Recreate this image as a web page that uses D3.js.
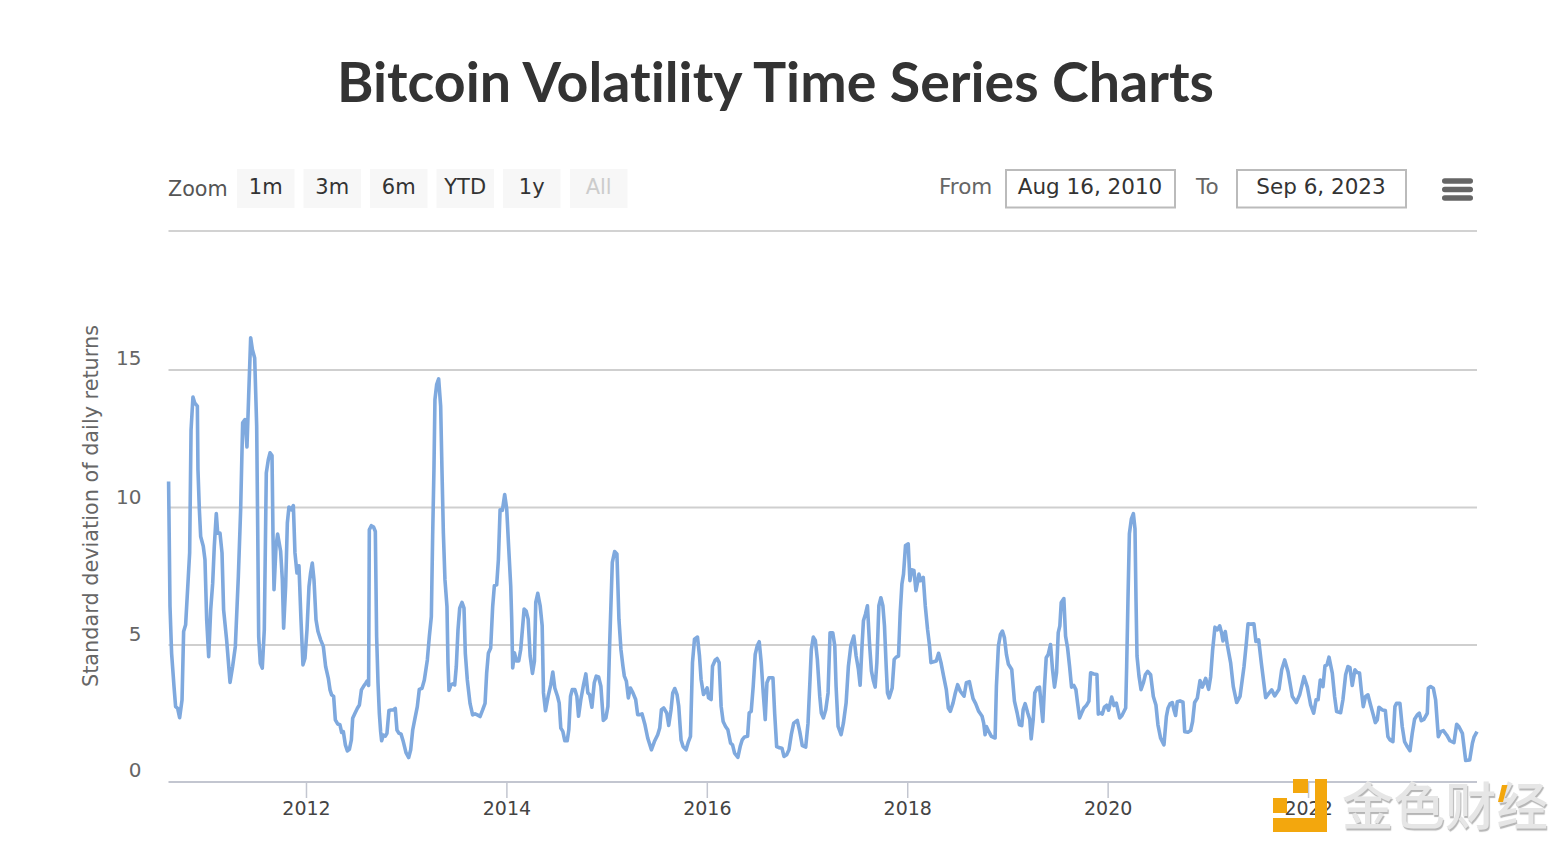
<!DOCTYPE html>
<html lang="en"><head><meta charset="utf-8"><title>Bitcoin Volatility Time Series Charts</title>
<script src="https://cdn.jsdelivr.net/npm/d3@7/dist/d3.min.js"></script>
<style>html,body{margin:0;padding:0;background:#fff}svg{display:block}</style></head>
<body><svg id="c" width="1560" height="846"></svg>
<script>
const chartTitle = "Bitcoin Volatility Time Series Charts";
const yAxisTitle = "Standard deviation of daily returns";
const zoomLabels = ["1m","3m","6m","YTD","1y","All"];
const fromDate = "Aug 16, 2010", toDate = "Sep 6, 2023";
const xTicks = [2012,2014,2016,2018,2020,2022];
const yTicks = [0,5,10,15];
// years since 2010 of each sampled reading
const yearsSince2010 = [
.629,.643,.659,.683,.699,.719,.739,.763,.779,.799,
.826,.839,.853,.872,.889,.916,.922,.936,.949,.975,
.992,1.009,1.029,1.049,1.069,1.085,1.105,1.119,1.142,1.162,
1.178,1.208,1.242,1.268,1.295,1.325,1.348,1.368,1.391,1.411,
1.428,1.448,1.465,1.488,1.508,1.518,1.528,1.544,1.564,1.584,
1.604,1.624,1.641,1.661,1.671,1.681,1.701,1.717,1.747,1.764,
1.777,1.797,1.814,1.830,1.854,1.874,1.890,1.910,1.930,1.950,
1.970,1.990,2.010,2.030,2.046,2.063,2.08,2.10,2.12,2.146,
2.173,2.196,2.223,2.24,2.256,2.276,2.293,2.316,2.339,2.356,
2.373,2.393,2.413,2.433,2.453,2.466,2.489,2.513,2.533,2.553,
2.573,2.596,2.612,2.625,2.632,2.652,2.675,2.692,2.705,2.719,
2.732,2.745,2.755,2.772,2.792,2.808,2.828,2.848,2.871,2.891,
2.908,2.928,2.948,2.971,2.998,3.025,3.045,3.065,3.088,3.111,
3.131,3.158,3.181,3.211,3.231,3.251,3.264,3.277,3.287,3.304,
3.324,3.344,3.357,3.371,3.387,3.407,3.417,3.427,3.447,3.467,
3.484,3.50,3.517,3.534,3.557,3.577,3.59,3.61,3.637,3.663,
3.687,3.71,3.737,3.763,3.787,3.803,3.82,3.843,3.863,3.88,
3.903,3.92,3.937,
3.96,3.983,4.003,4.02,4.043,4.053,4.063,4.08,4.10,4.123,
4.143,4.177,4.197,4.217,4.237,4.26,4.28,4.293,4.313,4.337,
4.357,4.37,4.39,4.417,4.443,4.463,4.483,4.51,4.527,4.543,
4.563,4.583,4.607,4.623,4.64,4.657,4.683,4.703,4.72,4.743,
4.77,4.793,4.813,4.83,4.853,4.877,4.897,4.92,4.943,4.967,
4.993,5.013,5.03,5.057,5.08,5.103,5.123,5.143,5.163,5.177,
5.197,5.217,5.237,5.263,5.29,5.31,5.333,5.353,5.383,5.41,
5.447,5.477,5.51,5.53,5.547,5.57,5.60,5.62,5.643,5.66,
5.68,5.703,5.72,5.743,5.763,5.793,5.817,5.837,5.857,5.877,
5.907,5.927,5.943,5.967,5.987,6.003,6.017,6.043,6.057,6.083,
6.103,6.123,6.143,6.163,6.187,6.21,6.237,6.257,6.277,6.31,
6.333,6.353,6.377,6.407,6.423,6.443,6.463,6.483,6.503,6.523,
6.543,6.563,6.583,6.60,6.62,6.66,6.677,6.697,6.72,6.75,
6.77,6.797,6.82,6.843,6.867,6.903,6.927,6.953,6.987,7.01,
7.03,7.043,7.063,7.083,7.103,7.127,7.143,7.163,
7.187,7.21,7.23,7.257,7.277,7.29,7.31,7.34,7.363,7.39,
7.413,7.437,7.467,7.49,7.513,7.53,7.547,7.563,7.583,7.603,
7.623,7.643,7.663,7.68,7.697,7.717,7.737,7.757,7.773,7.79,
7.803,7.82,7.85,7.87,7.89,7.913,7.93,7.947,7.963,7.983,
8.01,8.027,8.043,8.067,8.087,8.103,8.117,8.133,8.16,8.18,
8.203,8.223,8.237,8.263,8.29,8.313,8.337,8.363,8.39,8.41,
8.43,8.457,8.48,8.503,8.53,8.567,8.59,8.62,8.637,8.657,
8.683,8.713,8.747,8.763,8.777,8.79,8.813,8.84,8.877,8.89,
8.91,8.93,8.95,8.97,8.99,9.01,9.043,9.07,9.097,9.12,
9.143,9.157,9.177,9.203,9.223,9.237,9.257,9.273,9.297,9.32,
9.353,9.37,9.387,9.407,9.43,9.45,9.47,9.49,9.507,9.523,
9.537,9.563,9.58,9.60,9.62,9.64,9.663,9.683,9.70,9.72,
9.74,9.763,9.787,9.813,9.83,9.863,9.893,9.907,9.923,9.947,
9.967,9.99,10.01,10.04,10.063,10.087,10.12,10.143,10.18,10.19,
10.203,10.217,10.237,10.257,10.273,10.283,10.293,10.313,10.333,10.357,
10.377,10.40,10.429,10.456,10.482,10.502,10.529,10.562,10.586,10.602,
10.622,10.645,10.662,10.678,10.695,10.722,10.752,10.769,10.802,10.828,
10.848,10.868,10.895,10.922,10.945,10.978,11.008,11.028,11.048,11.071,
11.094,11.118,11.138,11.151,11.174,11.194,11.228,11.254,11.288,11.321,
11.361,11.384,11.401,11.427,11.46,11.48,11.507,11.534,11.577,11.61,
11.637,11.667,11.71,11.737,11.767,11.8,11.843,11.883,11.916,11.96,
11.993,12.026,12.056,12.08,12.1,12.122,12.149,12.169,12.189,12.209,
12.242,12.265,12.285,12.325,12.348,12.375,12.398,12.418,12.441,12.468,
12.491,12.514,12.531,12.551,12.574,12.598,12.624,12.651,12.671,12.691,
12.707,12.741,12.771,12.797,12.817,12.847,12.867,12.883,12.917,12.94,
12.963,12.99,13.017,13.04,13.063,13.09,13.11,13.13,13.156,13.19,
13.2,13.223,13.25,13.273,13.3,13.323,13.35,13.383,13.416,13.456,
13.483,13.506,13.54,13.573,13.613,13.64,13.656,13.686];
// standard deviation of daily returns at each reading
const volatility = [
10.93,6.38,4.68,3.47,2.74,2.68,2.34,2.98,5.47,5.72,
7.48,8.33,12.8,14.0,13.79,13.67,11.36,9.9,8.93,8.57,
8.08,5.9,4.56,6.26,7.23,8.57,9.76,9.05,9.05,8.33,
6.26,5.17,3.62,4.2,4.93,7.48,9.9,13.06,13.18,12.18,
14.03,16.15,15.73,15.42,12.94,9.3,5.29,4.32,4.14,5.53,
11.24,11.72,11.97,11.87,8.93,6.99,8.57,9.02,8.39,7.35,
5.59,7.11,9.42,10.0,9.9,10.05,8.33,7.6,7.86,5.9,
4.26,4.5,5.53,7.11,7.6,7.96,7.35,5.9,5.47,5.17,
4.93,4.2,3.77,3.35,3.17,3.11,2.26,2.11,2.08,1.8,
1.83,1.35,1.13,1.19,1.53,2.32,2.5,2.68,2.8,3.35,
3.47,3.59,3.68,3.51,9.17,9.32,9.27,9.11,5.29,3.59,
2.5,1.83,1.5,1.71,1.67,1.77,2.6,2.62,2.62,2.68,
1.89,1.77,1.75,1.47,1.07,.89,1.17,1.89,2.32,2.74,
3.37,3.41,3.71,4.44,5.29,6.02,8.93,11.36,13.91,14.45,
14.66,13.67,11.36,9.05,7.35,6.38,4.32,3.33,3.53,3.57,
3.53,4.2,5.53,6.32,6.53,6.32,4.68,3.71,2.86,2.44,
2.48,2.44,2.38,2.62,2.86,3.96,4.68,4.87,6.38,7.14,
7.17,8.08,9.9,
9.88,10.45,9.94,8.72,7.14,5.92,4.15,4.7,4.4,4.4,
4.82,6.29,6.22,5.92,4.58,3.95,4.4,6.53,6.86,6.41,
5.68,3.24,2.59,3.12,3.54,4.0,3.42,3.12,2.87,1.96,
1.84,1.5,1.5,1.9,3.12,3.36,3.36,3.12,2.39,3.0,
3.54,3.93,3.24,3.18,2.72,3.61,3.85,3.82,3.48,2.24,
2.33,2.75,4.95,7.99,8.38,8.29,5.92,4.82,4.21,3.85,
3.67,3.06,3.42,3.24,3.0,2.45,2.45,2.48,2.08,1.6,
1.17,1.47,1.72,1.96,2.63,2.69,2.51,2.06,2.63,3.24,
3.4,3.18,2.75,1.53,1.29,1.17,1.47,1.66,4.34,5.19,
5.27,4.58,3.73,3.18,3.3,3.42,3.06,3.0,4.21,4.43,
4.49,4.34,2.75,2.2,2.02,1.9,1.41,1.35,1.05,.9,
1.29,1.53,1.64,1.66,2.51,2.57,3.48,4.64,4.95,5.1,
4.34,3.24,2.27,3.61,3.79,3.79,2.51,1.29,1.25,1.23,
.93,.99,1.17,1.72,2.14,2.24,1.84,1.32,1.27,2.14,
3.73,4.82,5.27,5.15,4.46,3.12,2.51,2.33,
2.63,3.24,5.43,5.43,4.95,3.48,2.02,1.72,2.14,2.87,
4.21,4.95,5.31,4.58,4.09,3.52,4.82,5.86,6.1,6.41,
5.07,4.03,3.67,3.45,4.34,6.41,6.7,6.41,5.68,4.21,
3.24,3.06,3.42,4.46,4.54,4.58,6.16,7.2,7.56,8.6,
8.66,7.32,7.72,7.69,6.96,7.26,7.56,7.32,7.44,6.41,
5.55,4.95,4.34,4.37,4.4,4.68,4.34,3.85,3.36,2.69,
2.57,2.87,3.24,3.54,3.3,3.12,3.61,3.65,3.36,3.03,
2.85,2.57,2.39,2.14,1.72,2.02,1.84,1.66,1.6,3.48,
4.95,5.37,5.49,5.25,4.64,4.28,4.09,2.94,2.51,2.08,
2.05,2.63,2.85,2.51,2.27,1.57,2.27,3.24,3.42,3.45,
2.2,3.48,4.52,4.64,5.0,4.09,3.45,3.97,5.43,5.68,
6.53,6.67,5.31,4.88,4.21,3.45,3.51,3.36,2.87,2.33,
2.51,2.69,2.78,2.94,3.97,3.93,3.91,2.47,2.51,2.47,
2.72,2.79,2.61,3.09,2.78,2.87,2.33,2.42,2.69,4.21,
6.65,9.03,9.57,9.76,9.21,6.65,4.58,3.85,3.36,3.61,
3.91,4.02,3.9,3.11,2.8,2.08,1.59,1.35,2.38,2.68,
2.84,2.89,2.62,2.42,2.92,2.95,2.9,1.83,1.81,1.87,
2.2,2.89,3.05,3.69,3.45,3.77,3.37,3.83,4.81,5.63,
5.53,5.68,5.41,5.13,5.47,4.99,4.32,3.47,2.89,3.11,
4.2,5.05,5.75,5.74,5.75,5.11,5.17,4.32,3.07,3.23,
3.35,3.13,3.37,4.08,4.44,4.02,3.11,2.89,3.17,3.83,
3.45,2.8,2.5,2.99,2.99,3.71,3.47,4.22,4.26,4.54,
3.96,3.11,2.56,2.52,2.99,3.9,4.2,4.16,3.51,4.08,
3.98,3.96,3.35,2.74,3.11,3.17,2.8,2.44,2.16,2.26,
2.72,2.62,2.6,1.65,1.53,1.47,2.74,2.86,2.86,2.01,
1.47,1.29,1.14,1.77,2.28,2.44,2.5,2.23,2.28,2.5,
3.41,3.47,3.41,2.99,1.65,1.83,1.87,1.71,1.5,1.43,
2.1,2.01,1.77,.78,.8,1.41,1.63,1.83];
const watermark = "金色财经";

const FONT = "'DejaVu Sans', sans-serif";
const svg = d3.select("#c");
const left = 168.5, right = 1477, base = 782, top15 = 369.5;
const x = d3.scaleLinear().domain([.628, 13.686]).range([left, right]);
const y = d3.scaleLinear().domain([0, 15]).range([base, top15]);

svg.append("text").attr("x", 775.5).attr("y", 101.5).attr("text-anchor", "middle")
  .attr("font-family", "Lato, sans-serif").attr("font-weight", 700).attr("font-size", 55.5)
  .attr("style", "font-variant-ligatures:none").attr("fill", "#333").text(chartTitle);

// range selector
const btnX = [237, 303.5, 370, 436.5, 503, 570];
svg.append("text").attr("x", 168).attr("y", 196).attr("font-family", FONT).attr("font-size", 20.7).attr("fill", "#555").text("Zoom");
zoomLabels.forEach((t, i) => {
  svg.append("rect").attr("x", btnX[i]).attr("y", 169).attr("width", 57.5).attr("height", 39).attr("fill", "#f7f7f7");
  svg.append("text").attr("x", btnX[i] + 28.7).attr("y", 194).attr("text-anchor", "middle").attr("font-family", FONT)
    .attr("font-size", 21).attr("fill", t === "All" ? "#cccccc" : "#333").text(t);
});
svg.append("text").attr("x", 939).attr("y", 194).attr("font-family", FONT).attr("font-size", 21.5).attr("fill", "#666").text("From");
svg.append("text").attr("x", 1196).attr("y", 194).attr("font-family", FONT).attr("font-size", 21.5).attr("fill", "#666").text("To");
[[1006, fromDate], [1237, toDate]].forEach(([bx, t]) => {
  svg.append("rect").attr("x", bx).attr("y", 170).attr("width", 169).attr("height", 37.5).attr("fill", "#fff").attr("stroke", "#bbb").attr("stroke-width", 2);
  svg.append("text").attr("x", bx + 84).attr("y", 194).attr("text-anchor", "middle").attr("font-family", FONT).attr("font-size", 21.5).attr("fill", "#333").text(t);
});
[181, 189.5, 198].forEach(cy => svg.append("rect").attr("x", 1442).attr("y", cy - 2.8).attr("width", 31).attr("height", 5.6).attr("rx", 2.8).attr("fill", "#666"));
svg.append("line").attr("x1", left).attr("x2", right).attr("y1", 231).attr("y2", 231).attr("stroke", "#d2d2d2").attr("stroke-width", 2);

// y axis with grid
const gy = svg.append("g").attr("transform", `translate(${left},0)`)
  .call(d3.axisLeft(y).tickValues(yTicks).tickFormat(d3.format("d")).tickSize(-(right - left)).tickPadding(27));
gy.select(".domain").remove();
gy.selectAll(".tick line").attr("stroke", "#cfcfcf").attr("stroke-width", 2).filter(d => d === 0).remove();
gy.selectAll(".tick text").attr("font-family", FONT).attr("font-size", 20).attr("fill", "#666")
  .attr("dy", d => (d === 5 || d === 10) ? "-0.18em" : "-0.26em");

svg.append("text").attr("transform", "translate(97.5,506) rotate(-90)").attr("text-anchor", "middle")
  .attr("font-family", FONT).attr("font-size", 20.8).attr("fill", "#666").text(yAxisTitle);

// x axis
const gx = svg.append("g").attr("transform", `translate(0,${base})`)
  .call(d3.axisBottom(d3.scaleLinear().domain([2010.628, 2023.686]).range([left, right]))
    .tickValues(xTicks).tickFormat(d3.format("d")).tickSize(16).tickPadding(3.5));
gx.select(".domain").attr("stroke", "#c3c6d0").attr("stroke-width", 2).attr("d", `M${left},0H${right}`);
gx.selectAll(".tick line").attr("stroke", "#c3c6d0").attr("stroke-width", 1.5);
gx.selectAll(".tick text").attr("font-family", FONT).attr("font-size", 19).attr("fill", "#444");

// series
const line = d3.line().x((d, i) => x(yearsSince2010[i])).y(d => y(d));
svg.append("path").datum(volatility).attr("d", line).attr("fill", "none")
  .attr("stroke", "#7fa9de").attr("stroke-width", 3.6).attr("stroke-linejoin", "round");

// watermark
const wm = svg.append("g");
const orange = "#f3a70d";
[[1273, 798, 14, 15], [1293, 779, 15, 14], [1315, 779, 12, 53], [1273, 818, 54, 14]].forEach(r =>
  wm.append("rect").attr("x", r[0]).attr("y", r[1]).attr("width", r[2]).attr("height", r[3]).attr("fill", orange));
wm.append("text").attr("x", 1342).attr("y", 825).attr("font-family", "'Noto Sans CJK SC', sans-serif").attr("font-weight", 500)
  .attr("font-size", 51.5).attr("fill", "#e6e6e6").attr("style", "text-shadow:1px 2px 1px #b5b5b5").text(watermark);
wm.append("path").attr("d", "M1502,785L1507.5,785L1503,802L1498,802Z").attr("fill", orange);
</script></body></html>
